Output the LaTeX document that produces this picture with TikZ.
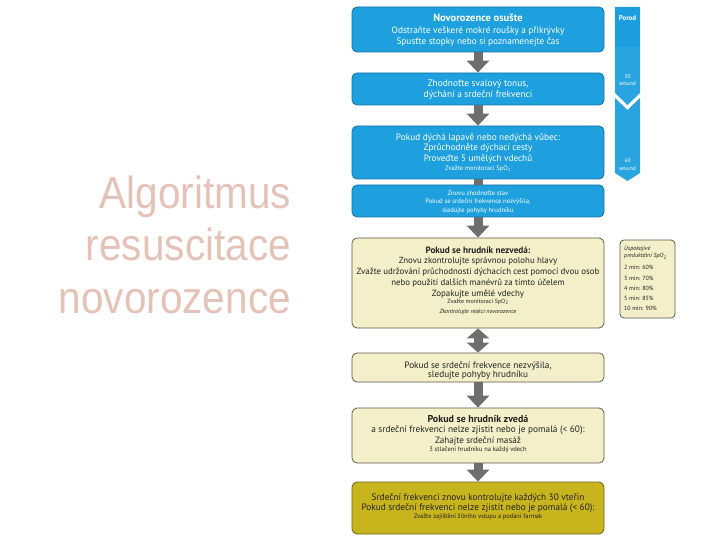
\documentclass[tikz,border=0pt]{standalone}
\usepackage{fontspec}
\setmainfont{PT Sans}
\newfontfamily\titlefont{Liberation Sans}
\usetikzlibrary{arrows.meta}
\definecolor{boxblue}{HTML}{1DA0DD}
\definecolor{blueedge}{HTML}{1570A5}
\definecolor{barblue}{HTML}{1A9EE0}
\definecolor{barblue2}{HTML}{28A4E0}
\definecolor{boxyellow}{HTML}{F3EFC8}
\definecolor{yellowedge}{HTML}{5A5A4C}
\definecolor{boxolive}{HTML}{C8B41C}
\definecolor{oliveedge}{HTML}{6A6222}
\definecolor{arrowgray}{HTML}{6E6E6E}
\definecolor{titlepink}{HTML}{E5C2B7}
\definecolor{darktext}{HTML}{222222}
\newcommand\boxline[4]{\node[anchor=base, inner sep=0, #3] (#1) at (478,#2) {#4};}
\newcommand\fs[1]{\fontsize{#1}{#1}\selectfont}
\begin{document}
\begin{tikzpicture}[x=1pt,y=-1pt,
  basebox/.style={rounded corners=5pt, line width=0.8pt, minimum width=252pt, inner sep=0},
  bluebox/.style={basebox, fill=boxblue, draw=blueedge},
  yellowbox/.style={basebox, fill=boxyellow, draw=yellowedge},
  olivebox/.style={basebox, fill=boxolive, draw=oliveedge},
  wt/.style={text=white},
  bk/.style={text=darktext},
  sz/.style={font=\fs{#1}},
  szb/.style={font=\fs{#1}\bfseries},
  flow/.style={draw=arrowgray, line width=9pt, -{Triangle[width=22pt,length=12pt]}},
  dflow/.style={draw=arrowgray, line width=9pt, {Triangle[width=22pt,length=10pt]}-{Triangle[width=22pt,length=10pt]}},
  bar/.style={draw=arrowgray, line width=9pt},
  spo/.style={anchor=base west, inner sep=0, font=\fs{6}, text=darktext}
]
\useasboundingbox (0,0) rectangle (720,540);

% title
\node[anchor=base east, inner sep=0, text=titlepink, font=\titlefont\fs{45}, xscale=0.9] (t1) at (291,208) {Algoritmus};
\node[anchor=base east, inner sep=0, text=titlepink, font=\titlefont\fs{45}, xscale=0.9] (t2) at (291,260.5) {resuscitace};
\node[anchor=base east, inner sep=0, text=titlepink, font=\titlefont\fs{45}, xscale=0.9] (t3) at (291,313) {novorozence};

% boxes
\node[bluebox, minimum height=45pt] (b1) at (478,29.5) {};
\node[bluebox, minimum height=32pt] (b2) at (478,89) {};
\node[bluebox, minimum height=53pt] (b3) at (478,152.5) {};
\node[bluebox, minimum height=32pt] (b4) at (478,201) {};
\node[yellowbox, minimum height=90pt] (b5) at (478,283) {};
\node[yellowbox, minimum height=29pt] (b6) at (478,367.5) {};
\node[yellowbox, minimum height=55pt] (b7) at (478,435.5) {};
\node[olivebox, minimum height=52pt] (b8) at (478,508) {};

% connectors
\draw[flow] (b1.south) -- (b2.north);
\draw[flow] (b2.south) -- (b3.north);
\draw[bar] (b3.south) -- (b4.north);
\draw[flow] (b4.south) -- (b5.north);
\draw[dflow] (b5.south) -- (b6.north);
\draw[flow] (b6.south) -- (b7.north);
\draw[flow] (b7.south) -- (b8.north);

% box texts
\boxline{l11}{22}{wt,szb=10.5}{Novorozence osušte}
\boxline{l12}{34}{wt,sz=9.3}{Odstraňte veškeré mokré roušky a přikrývky}
\boxline{l13}{45}{wt,sz=9.3}{Spusťte stopky nebo si poznamenejte čas}

\boxline{l21}{87}{wt,sz=9.4}{Zhodnoťte svalový tonus,}
\boxline{l22}{97.5}{wt,sz=9.4}{dýchání a srdeční frekvenci}

\boxline{l31}{141}{wt,sz=9.3}{Pokud dýchá lapavě nebo nedýchá vůbec:}
\boxline{l32}{151}{wt,sz=9.2}{Zprůchodněte dýchací cesty}
\boxline{l33}{162}{wt,sz=9.2}{Proveďte 5 umělých vdechů}
\boxline{l34}{170.5}{wt,sz=6.5}{Zvažte monitoraci SpO\textsubscript{2}}

\boxline{l41}{195.5}{wt,sz=6.6}{Znovu zhodnoťte stav}
\boxline{l42}{204}{wt,sz=6.6}{Pokud se srdeční frekvence nezvýšila,}
\boxline{l43}{212.5}{wt,sz=6.6}{sledujte pohyby hrudníku}

\boxline{l51}{253}{bk,szb=9.2}{Pokud se hrudník nezvedá:}
\boxline{l52}{263.5}{bk,sz=8.8}{Znovu zkontrolujte správnou polohu hlavy}
\boxline{l53}{274.5}{bk,sz=8.8}{Zvažte udržování průchodnosti dýchacích cest pomocí dvou osob}
\boxline{l54}{285.5}{bk,sz=8.8}{nebo použití dalších manévrů za tímto účelem}
\boxline{l55}{296}{bk,sz=8.9}{Zopakujte umělé vdechy}
\boxline{l56}{303.5}{bk,sz=6}{Zvažte monitoraci SpO\textsubscript{2}}
\boxline{l57}{313}{bk,sz=6}{\itshape Zkontrolujte reakci novorozence}

\boxline{l61}{368}{bk,sz=9.25}{Pokud se srdeční frekvence nezvýšila,}
\boxline{l62}{377.5}{bk,sz=9.25}{sledujte pohyby hrudníku}

\boxline{l71}{422.5}{bk,szb=10}{Pokud se hrudník zvedá}
\boxline{l72}{432.5}{bk,sz=9.3}{a srdeční frekvenci nelze zjistit nebo je pomalá (< 60):}
\boxline{l73}{443.5}{bk,sz=9.1}{Zahajte srdeční masáž}
\boxline{l74}{451.5}{bk,sz=6.5}{3 stlačení hrudníku na každý vdech}

\boxline{l81}{500.5}{bk,sz=9.3}{Srdeční frekvenci znovu kontrolujte každých 30 vteřin}
\boxline{l82}{510.5}{bk,sz=9.3}{Pokud srdeční frekvenci nelze zjistit nebo je pomalá (< 60):}
\boxline{l83}{518}{bk,sz=6.4}{Zvažte zajištění žilního vstupu a podání farmak}

% side bar
\fill[barblue2] (615,7) -- (640,7) -- (640,93) -- (627.5,105) -- (615,93) -- cycle;
\fill[barblue] (615,7) rectangle (640,47);
\fill[barblue2] (615,98) -- (627.5,110) -- (640,98) -- (640,173) -- (627.5,181) -- (615,173) -- cycle;
\node[anchor=base, inner sep=0, text=white, font=\fs{7}\bfseries] (p0) at (627.5,21) {Porod};
\node[anchor=base, inner sep=0, text=white, font=\fs{5.5}] (p1) at (627.5,79) {30};
\node[anchor=base, inner sep=0, text=white, font=\fs{5.5}] (p2) at (627.5,86) {sekund};
\node[anchor=base, inner sep=0, text=white, font=\fs{5.5}] (p3) at (627.5,163) {60};
\node[anchor=base, inner sep=0, text=white, font=\fs{5.5}] (p4) at (627.5,170.5) {sekund};

% SpO2 box
\node[basebox, fill=boxyellow, draw=yellowedge, minimum width=55pt, minimum height=78pt, rounded corners=4pt] (sb) at (647.5,279) {};
\node[spo] (s1) at (624,251) {\itshape Uspokojivé};
\node[spo] (s2) at (624,258) {\itshape preduktální SpO\textsubscript{2}};
\node[spo] (s3) at (624,269) {2 min: 60\%};
\node[spo] (s4) at (624,280) {3 min: 70\%};
\node[spo] (s5) at (624,290.5) {4 min: 80\%};
\node[spo] (s6) at (624,300.5) {5 min: 85\%};
\node[spo] (s7) at (624,310.5) {10 min: 90\%};
\end{tikzpicture}
\end{document}
